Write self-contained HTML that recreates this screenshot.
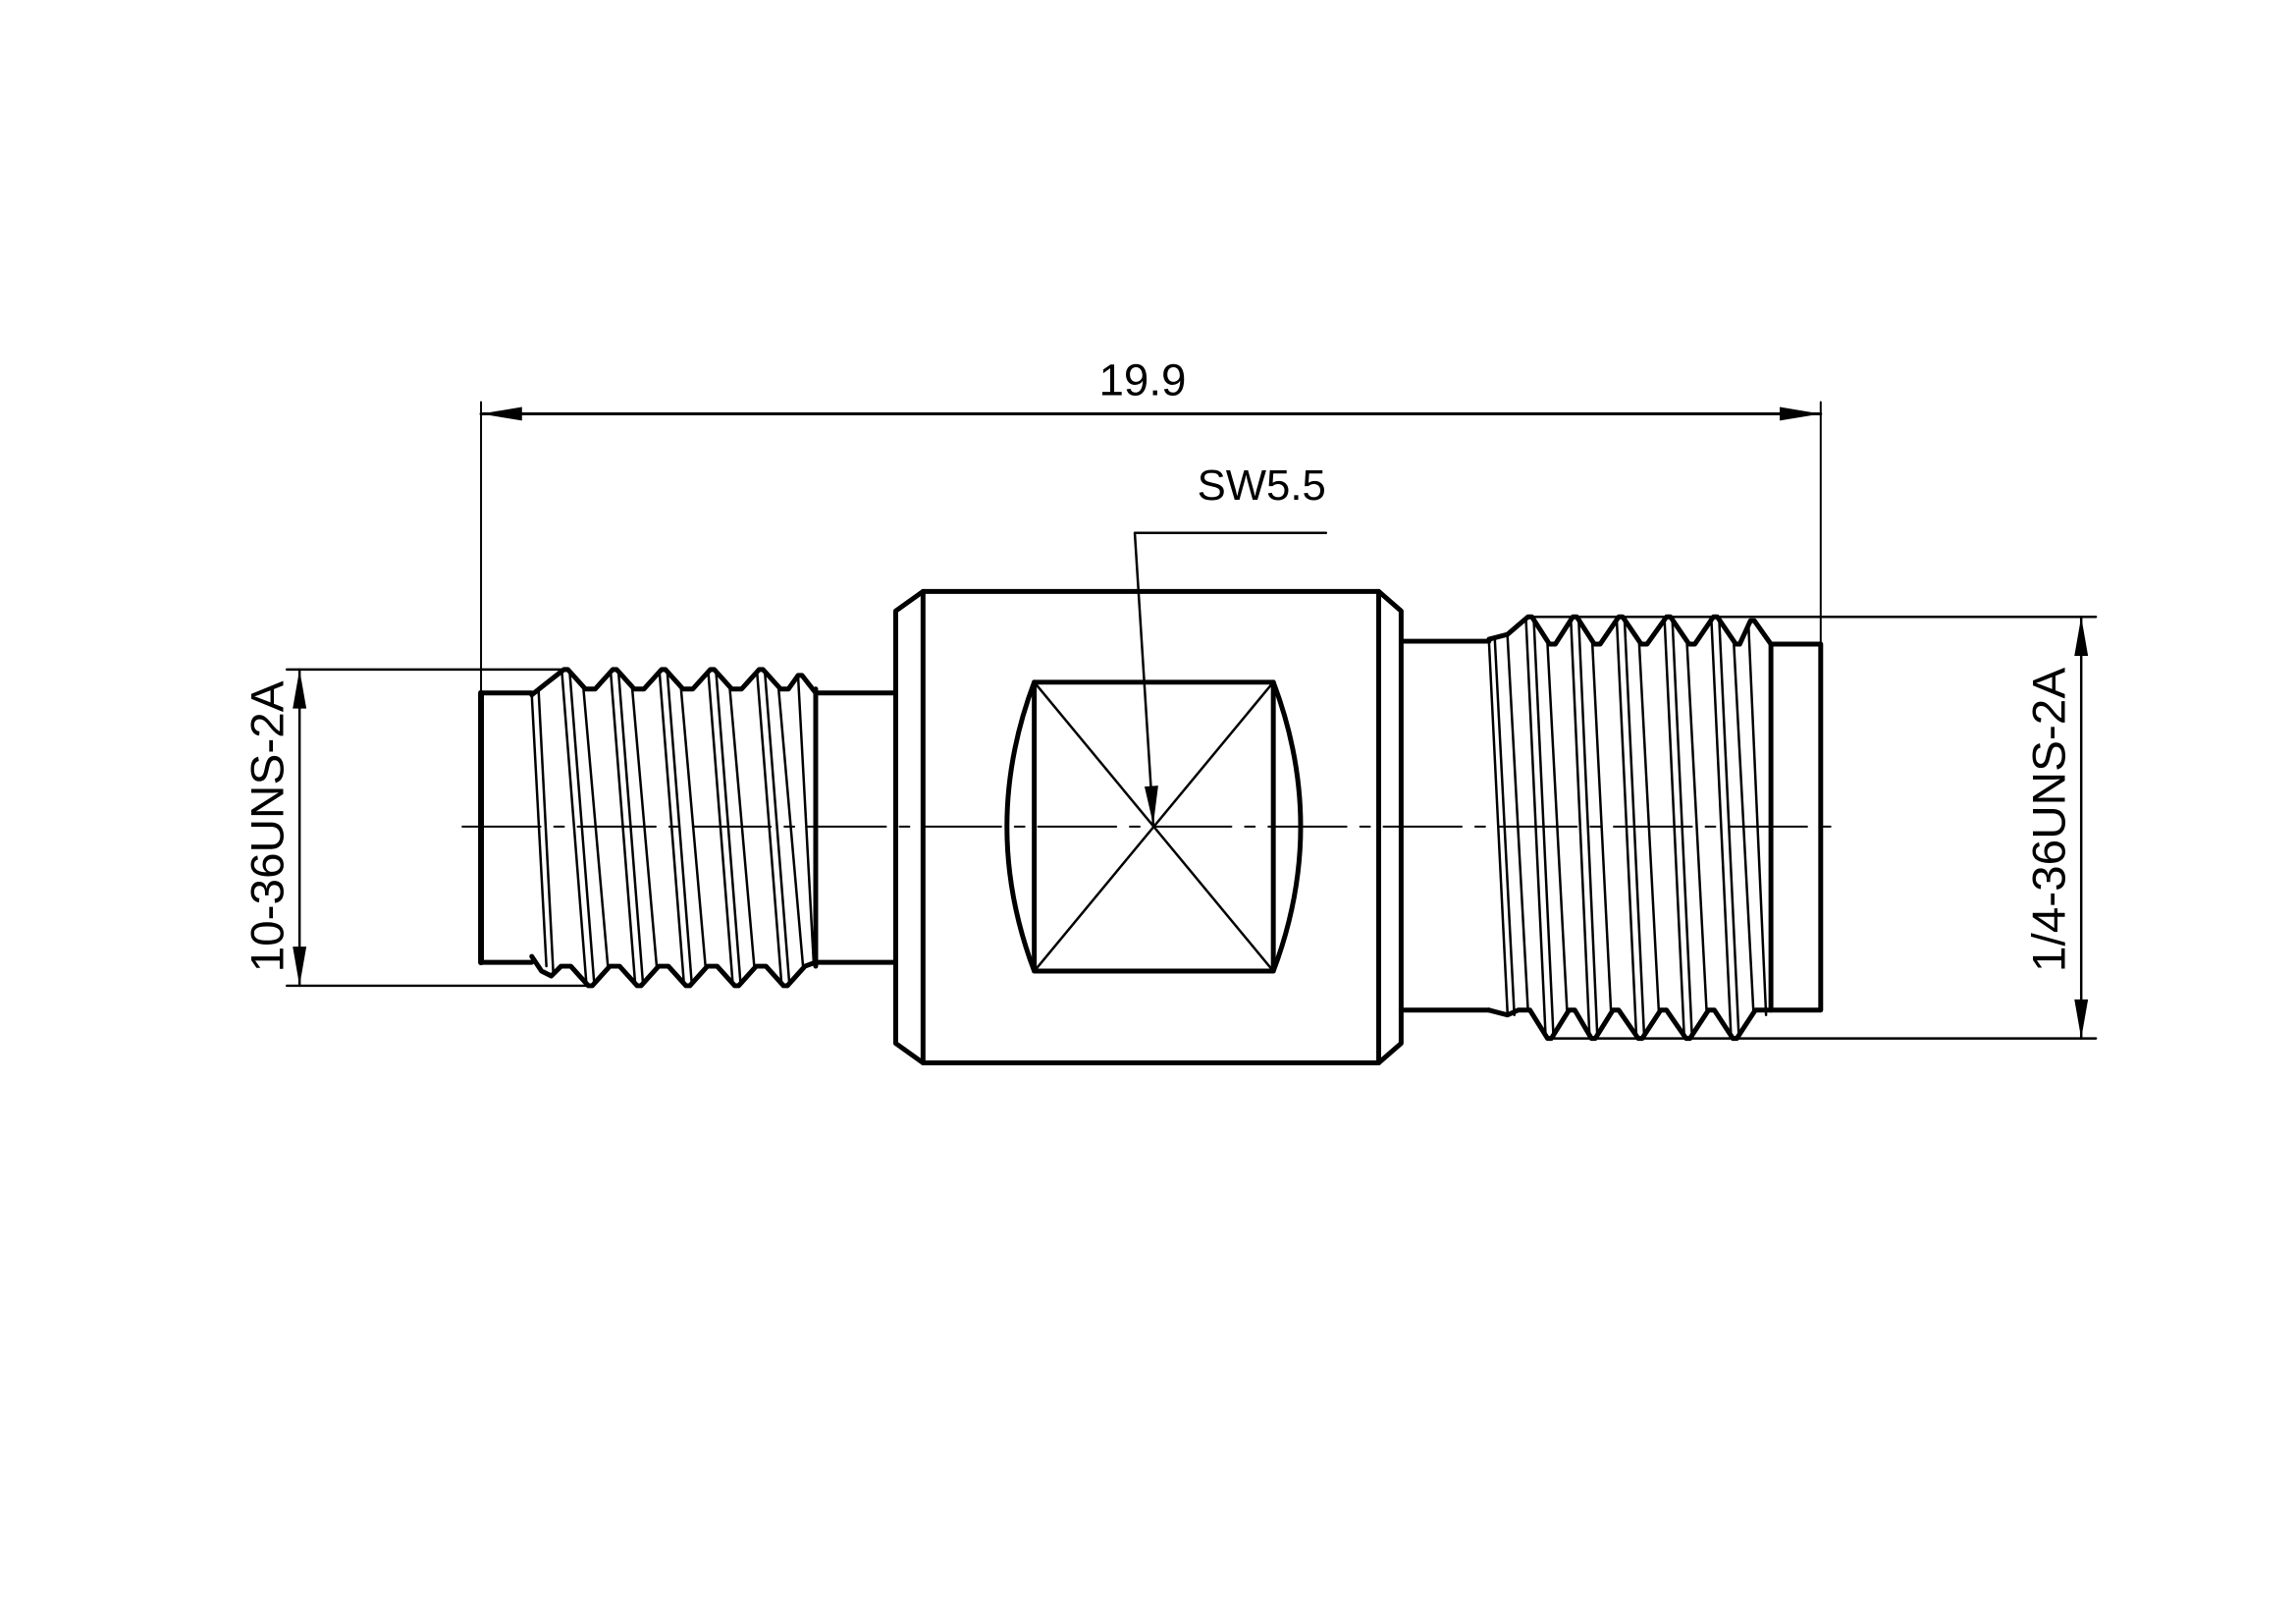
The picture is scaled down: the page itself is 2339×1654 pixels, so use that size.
<!DOCTYPE html>
<html><head><meta charset="utf-8"><style>
html,body{margin:0;padding:0;background:#fff;}
svg{display:block;}
text{font-family:"Liberation Sans",sans-serif;fill:#000;}
</style></head><body>
<svg width="2339" height="1654" viewBox="0 0 2339 1654" xmlns="http://www.w3.org/2000/svg">
<rect width="2339" height="1654" fill="#fff"/>
<g transform="scale(0.994)">
<g stroke="#000" fill="none" stroke-linecap="round" stroke-linejoin="round">
<!-- centerline -->
<line x1="474" y1="847" x2="1886" y2="847" stroke-width="2" stroke-dasharray="80 14 10 14"/>
<!-- overall dim -->
<line x1="493" y1="412" x2="493" y2="710" stroke-width="2"/>
<line x1="1866" y1="412" x2="1866" y2="660" stroke-width="2"/>
<line x1="493" y1="424" x2="1866" y2="424" stroke-width="3"/>
<!-- left dim -->
<line x1="294" y1="686" x2="578" y2="686" stroke-width="2.5"/>
<line x1="294" y1="1010" x2="605" y2="1010" stroke-width="2.5"/>
<line x1="307" y1="686" x2="307" y2="1010" stroke-width="2.5"/>
<!-- right dim -->
<line x1="1568" y1="632" x2="2148" y2="632" stroke-width="2.5"/>
<line x1="1588" y1="1064" x2="2148" y2="1064" stroke-width="2.5"/>
<line x1="2133" y1="632" x2="2133" y2="1064" stroke-width="2.5"/>
<!-- SW leader -->
<polyline points="1359,546 1163,546 1182,845" stroke-width="2.5"/>

<!-- left cylinder -->
<polyline points="545,710 493,710 493,986 545,986" stroke-width="5"/>
<line x1="493" y1="710" x2="493" y2="986" stroke-width="6"/>
<!-- left thread -->
<polyline stroke-width="5" points="545,712 560,700 578,686 582,686 600,706 610,706 628,686 632,686 650,706 660,706 678,686 682,686 700,706 710,706 728,686 732,686 750,706 760,706 778,686 782,686 800,706 808,706 818,692 822,692 836,710"/>
<polyline stroke-width="5" points="545,980 555,995 565,1000 575,990 585,990 603,1010 607,1010 625,990 635,990 653,1010 657,1010 675,990 685,990 703,1010 707,1010 725,990 735,990 753,1010 757,1010 775,990 785,990 803,1010 807,1010 825,990 836,986"/>
<g stroke-width="2.5">
<line x1="545" y1="712" x2="560" y2="990"/>
<line x1="552" y1="708" x2="567" y2="996"/>
<line x1="576" y1="690" x2="601" y2="1008"/><line x1="584" y1="690" x2="609" y2="1008"/><line x1="598" y1="706" x2="623" y2="990"/>
<line x1="626" y1="690" x2="651" y2="1008"/><line x1="634" y1="690" x2="659" y2="1008"/><line x1="648" y1="706" x2="673" y2="990"/>
<line x1="676" y1="690" x2="701" y2="1008"/><line x1="684" y1="690" x2="709" y2="1008"/><line x1="698" y1="706" x2="723" y2="990"/>
<line x1="726" y1="690" x2="751" y2="1008"/><line x1="734" y1="690" x2="759" y2="1008"/><line x1="748" y1="706" x2="773" y2="990"/>
<line x1="776" y1="690" x2="801" y2="1008"/><line x1="784" y1="690" x2="809" y2="1008"/><line x1="798" y1="706" x2="823" y2="990"/>
<line x1="818" y1="694" x2="834" y2="988"/>
</g>
<line x1="836" y1="706" x2="836" y2="990" stroke-width="5"/>
<!-- left neck -->
<line x1="836" y1="710" x2="918" y2="710" stroke-width="5"/>
<line x1="836" y1="986" x2="918" y2="986" stroke-width="5"/>

<!-- body -->
<path d="M946,606 L1413,606 L1436,626 L1436,1069 L1413,1089 L946,1089 L918,1069 L918,626 Z" stroke-width="5"/>
<line x1="946" y1="606" x2="946" y2="1089" stroke-width="5"/>
<line x1="1413" y1="606" x2="1413" y2="1089" stroke-width="5"/>
<!-- hex flat -->
<rect x="1060" y="699" width="245" height="296" stroke-width="5"/>
<path d="M1060,699 Q1004,847 1060,995" stroke-width="5"/>
<path d="M1305,699 Q1361,847 1305,995" stroke-width="5"/>
<line x1="1060" y1="699" x2="1305" y2="995" stroke-width="2.5"/>
<line x1="1305" y1="699" x2="1060" y2="995" stroke-width="2.5"/>

<!-- right neck -->
<line x1="1436" y1="657" x2="1526" y2="657" stroke-width="5"/>
<line x1="1436" y1="1035" x2="1526" y2="1035" stroke-width="5"/>
<!-- right thread -->
<polyline stroke-width="5" points="1526,655 1545,650 1566,632 1570,632 1588,660 1594,660 1612,632 1616,632 1634,660 1640,660 1659,632 1663,632 1682,660 1688,660 1708,632 1712,632 1731,660 1737,660 1756,632 1760,632 1779,660 1783,660 1794,636 1798,636 1815,660"/>
<polyline stroke-width="5" points="1526,1035 1545,1040 1556,1035 1568,1035 1586,1064 1590,1064 1608,1035 1614,1035 1631,1064 1635,1064 1653,1035 1659,1035 1679,1064 1683,1064 1702,1035 1708,1035 1728,1064 1732,1064 1751,1035 1757,1035 1776,1064 1780,1064 1799,1035 1815,1035"/>
<g stroke-width="2.5">
<line x1="1526" y1="657" x2="1545" y2="1038"/><line x1="1532" y1="655" x2="1552" y2="1040"/><line x1="1545" y1="652" x2="1566" y2="1035"/>
<line x1="1564" y1="636" x2="1584" y2="1060"/><line x1="1572" y1="636" x2="1592" y2="1060"/><line x1="1586" y1="660" x2="1606" y2="1035"/>
<line x1="1610" y1="636" x2="1629" y2="1060"/><line x1="1618" y1="636" x2="1637" y2="1060"/><line x1="1632" y1="660" x2="1651" y2="1035"/>
<line x1="1657" y1="636" x2="1677" y2="1060"/><line x1="1665" y1="636" x2="1685" y2="1060"/><line x1="1680" y1="660" x2="1700" y2="1035"/>
<line x1="1706" y1="636" x2="1726" y2="1060"/><line x1="1714" y1="636" x2="1734" y2="1060"/><line x1="1729" y1="660" x2="1749" y2="1035"/>
<line x1="1754" y1="636" x2="1774" y2="1060"/><line x1="1762" y1="636" x2="1782" y2="1060"/><line x1="1777" y1="660" x2="1797" y2="1035"/>
<line x1="1792" y1="640" x2="1810" y2="1040"/>
</g>
<line x1="1815" y1="660" x2="1815" y2="1035" stroke-width="5"/>
<!-- right cylinder -->
<polyline points="1815,660 1866,660 1866,1035 1815,1035" stroke-width="5"/>
</g>
<!-- arrowheads -->
<g fill="#000">
<polygon points="493,424 535,417 535,431"/>
<polygon points="1866,424 1824,417 1824,431"/>
<polygon points="307,686 300,726 314,726"/>
<polygon points="307,1010 300,970 314,970"/>
<polygon points="2133,632 2126,672 2140,672"/>
<polygon points="2133,1064 2126,1024 2140,1024"/>
<polygon points="1182,845 1173,806 1187,805"/>
</g>
<text x="1171" y="405" font-size="46" text-anchor="middle">19.9</text>
<text x="1293" y="512" font-size="44" text-anchor="middle">SW5.5</text>
<text transform="translate(290,847) rotate(-90)" font-size="48" text-anchor="middle">10-36UNS-2A</text>
<text transform="translate(2116,840) rotate(-90)" font-size="48" text-anchor="middle">1/4-36UNS-2A</text>
</g>
</svg>
</body></html>
